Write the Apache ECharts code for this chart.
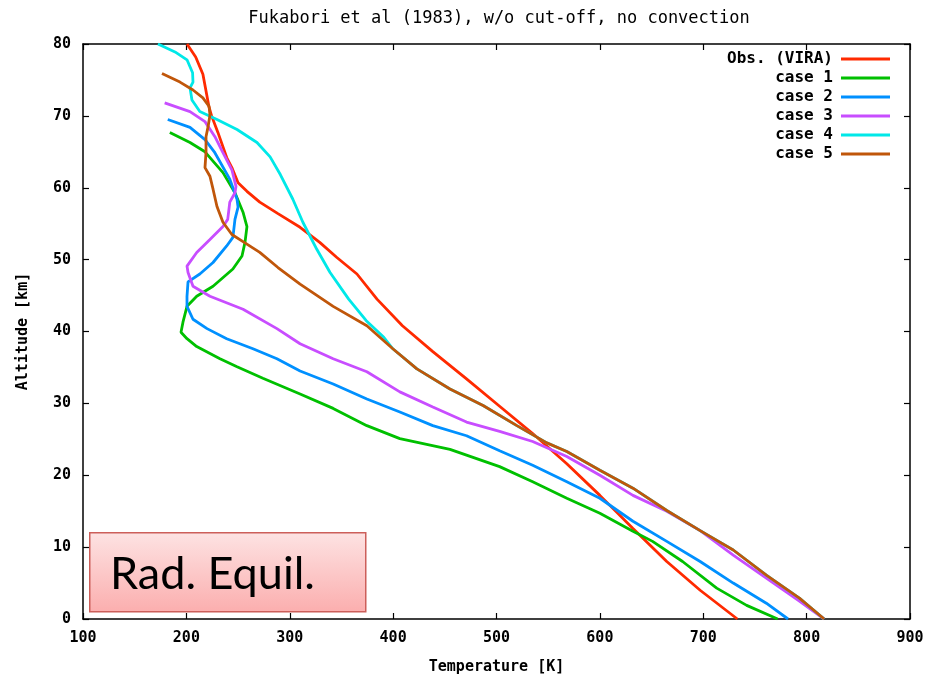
<!DOCTYPE html>
<html>
<head>
<meta charset="utf-8">
<script src="https://cdn.jsdelivr.net/npm/echarts@6/dist/echarts.min.js"></script>
<style>
  html, body { margin: 0; padding: 0; background: #fff; }
  #chart { width: 931px; height: 680px; }
</style>
</head>
<body>
<div id="chart"></div>
<script>
// Temperature profiles [T (K), altitude (km)]
const obsVira = [[200.6,80],[209,78.2],[216,75.8],[221.8,71.3],[224.4,70],[230.5,67.7],[239,64.2],[244,62.8],[250,60.7],[258.6,59.5],[271,58],[288.6,56.4],[310,54.5],[329,52.4],[345.6,50.3],[365,48],[384.4,44.5],[409,40.8],[438.4,37.2],[471,33.4],[503,29.6],[535,25.8],[568,21.6],[600,17.2],[632,12.6],[664.7,8],[697,4],[733,0]];
const case1 = [[184,67.7],[203.5,66.3],[218,65],[235.4,62.1],[247,59.3],[254.8,56.6],[258.6,54.6],[256.7,52.4],[253.8,50.5],[245,48.7],[225.8,46.3],[210,44.9],[200.6,43.5],[196.7,41.3],[194.8,39.9],[200.6,39],[210,37.9],[232.5,36.2],[249,35.1],[274,33.5],[310,31.3],[342,29.3],[374.6,26.9],[406.5,25.1],[455,23.6],[503,21.2],[535,19.1],[568,16.8],[600,14.7],[632,12.2],[651,10.8],[680,8],[713,4.3],[742,1.9],[772,0]];
const case2 = [[182,69.5],[203.5,68.4],[218,66.7],[227,65],[242,61.2],[249,58.4],[250,57.3],[247,55.6],[245,53.1],[239,51.9],[225.8,49.6],[213,48],[201.6,46.9],[200.6,44.9],[200.6,43.5],[206.4,41.7],[220,40.4],[239,39],[264.4,37.6],[287.6,36.2],[310,34.5],[342,32.7],[374.6,30.6],[406.5,28.8],[438.4,26.9],[471,25.5],[503,23.4],[535,21.4],[568,19.1],[600,16.8],[632,13.6],[664.7,10.8],[697,8],[729,5],[761,2.2],[782,0]];
const case3 = [[179,71.8],[203.5,70.6],[218,69.2],[227.6,67.1],[235,65],[244,62.5],[248,60.2],[247,59.3],[242,58],[240,55.6],[235.4,54.6],[222.8,52.8],[210,51],[200.6,49.1],[201.6,48.2],[206.4,46.3],[222.8,44.9],[254.8,43.1],[287.6,40.4],[310,38.3],[342,36.2],[374.6,34.4],[406.5,31.6],[438.4,29.5],[471,27.4],[503,26.1],[535,24.7],[568,22.6],[600,20],[632,17.2],[664.7,15],[697,12.3],[729,8.9],[761,5.7],[793,2.5],[817,0]];
const case4 = [[172.5,80],[189,78.9],[200.6,77.8],[206,76],[206.4,74.7],[203.5,73.9],[205.4,72.2],[213,70.6],[229.6,69.5],[249,68.1],[268.3,66.3],[281,64.3],[291,61.8],[303,58.4],[312.7,55.2],[326.3,51.4],[339,48.2],[357,44.5],[374,41.5],[391,39.2],[399.7,37.6],[423,34.8],[455,32],[487,29.7],[519.7,26.9],[548.7,24.5],[568,23.3],[600,20.7],[632,18.2],[664.7,15.1],[697,12.3],[729,9.6],[761,6.1],[793,2.9],[817,0]];
const case5 = [[176.4,75.9],[193.8,74.7],[206.4,73.6],[216,72.5],[222,71.3],[222.8,70.1],[221,68.5],[219,67.1],[219,64.9],[218,62.8],[222.8,61.6],[225.8,59.8],[229.6,57.4],[235.4,55.2],[244,53.5],[254.8,52.5],[271,51],[288.6,48.9],[310,46.6],[342,43.5],[374.6,40.8],[399.7,37.6],[423,34.8],[455,32],[487,29.7],[519.7,26.9],[548.7,24.5],[568,23.3],[600,20.7],[632,18.2],[664.7,15.1],[697,12.3],[729,9.6],[761,6.1],[793,2.9],[817,0]];

const seriesNames = ['Obs. (VIRA)', 'case 1', 'case 2', 'case 3', 'case 4', 'case 5'];
const seriesData = [obsVira, case1, case2, case3, case4, case5];
const seriesColors = ['#ff2a00', '#00c000', '#0090ff', '#c84dff', '#00e8e8', '#c0560a'];

const mono = '"DejaVu Sans Mono", "Liberation Mono", monospace';

const chart = echarts.init(document.getElementById('chart'), null, { renderer: 'canvas' });

function xAx(pos, labels) {
  return {
    type: 'value', position: pos, min: 100, max: 900, interval: 100,
    axisLine: { show: true, onZero: false, lineStyle: { color: '#000', width: 1.5 } },
    axisTick: { show: true, inside: true, length: 6, lineStyle: { color: '#000', width: 1.2 } },
    axisLabel: { show: labels, margin: 12, color: '#000', fontFamily: mono, fontWeight: 'bold', fontSize: 15 },
    splitLine: { show: false },
    name: labels ? 'Temperature [K]' : '',
    nameLocation: 'middle', nameGap: 41,
    nameTextStyle: { color: '#000', fontFamily: mono, fontWeight: 'bold', fontSize: 15 }
  };
}
function yAx(pos, labels) {
  return {
    type: 'value', position: pos, min: 0, max: 80, interval: 10,
    axisLine: { show: true, onZero: false, lineStyle: { color: '#000', width: 1.5 } },
    axisTick: { show: true, inside: true, length: 6, lineStyle: { color: '#000', width: 1.2 } },
    axisLabel: { show: labels, margin: 12, color: '#000', fontFamily: mono, fontWeight: 'bold', fontSize: 15 },
    splitLine: { show: false },
    name: labels ? 'Altitude [km]' : '',
    nameLocation: 'middle', nameGap: 52, nameRotate: 90,
    nameTextStyle: { color: '#000', fontFamily: mono, fontWeight: 'bold', fontSize: 15 }
  };
}

chart.setOption({
  animation: false,
  backgroundColor: '#fff',
  title: {
    text: 'Fukabori et al (1983), w/o cut-off, no convection',
    left: 494, top: 5, textAlign: 'center',
    textStyle: { fontFamily: mono, fontWeight: 'normal', fontSize: 17, color: '#000' }
  },
  grid: { left: 83, right: 21, top: 44, bottom: 59 },
  xAxis: [xAx('bottom', true), xAx('top', false)],
  yAxis: [yAx('left', true), yAx('right', false)],
  legend: {
    orient: 'vertical', right: 36, top: 46, align: 'right',
    icon: 'rect', itemWidth: 49, itemHeight: 3, itemGap: 3,
    textStyle: { fontFamily: mono, fontWeight: 'bold', fontSize: 16, lineHeight: 16, color: '#000', padding: [0, 3, 0, 0] },
    data: seriesNames
  },
  series: seriesNames.map((n, i) => ({
    name: n, type: 'line', data: seriesData[i],
    xAxisIndex: 0, yAxisIndex: 0,
    symbol: 'none', smooth: false, clip: true,
    lineStyle: { color: seriesColors[i], width: 2.8 },
    itemStyle: { color: seriesColors[i] },
    z: 2 + i
  })),
  graphic: [
    {
      type: 'rect', left: 89, top: 532, z: 100,
      shape: { width: 276, height: 79 },
      style: {
        fill: new echarts.graphic.LinearGradient(0, 0, 0, 1, [
          { offset: 0, color: '#fde3e3' },
          { offset: 1, color: '#fbaeae' }
        ]),
        stroke: '#cc5f5a', lineWidth: 1.5
      }
    },
    {
      type: 'text', left: 110, top: 552, z: 101,
      style: { text: 'Rad. Equil.', fill: '#000', font: '45px Lato, "Open Sans", sans-serif' }
    }
  ]
});
</script>
</body>
</html>
